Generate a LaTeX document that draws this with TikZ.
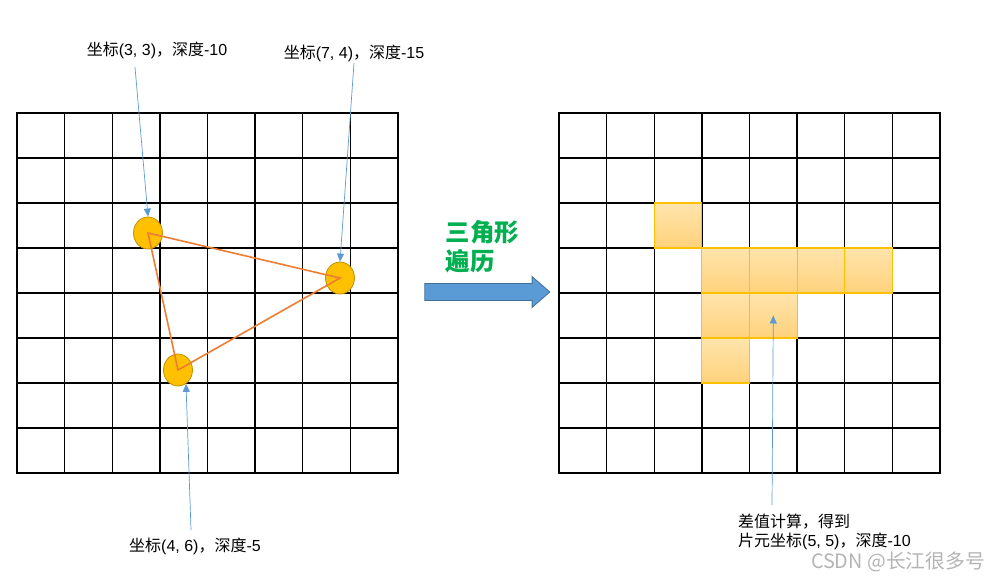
\documentclass[tikz,border=0pt]{standalone}
\usepackage{fontspec}
\setmainfont{Liberation Sans}
\newfontfamily\cjk{Noto Sans CJK SC}
\usepackage{xcolor}
\usetikzlibrary{arrows.meta,shapes.geometric,shapes.arrows}

\definecolor{dotfill}{HTML}{FFC000}
\definecolor{dotedge}{HTML}{BF9000}
\definecolor{triorange}{HTML}{ED7D31}
\definecolor{callblue}{HTML}{5B9BD5}
\definecolor{celltop}{HTML}{FFE4AC}
\definecolor{cellbot}{HTML}{FFD27C}
\definecolor{cellborder}{HTML}{FFC000}
\definecolor{stepgreen}{HTML}{00B050}
\definecolor{arrowedge}{HTML}{41719C}
\definecolor{wmgray}{HTML}{B4B4B4}

\begin{document}
\begin{tikzpicture}[x=1pt, y=-1pt, font=\fontsize{16}{19}\selectfont,
  gridline/.style={line width=1.3pt, line cap=rect},
  dot/.style={ellipse, draw=dotedge, fill=dotfill, line width=0.8pt,
    minimum width=29pt, minimum height=32pt, inner sep=0pt},
  edge/.style={draw=triorange, line width=1.6pt},
  callout/.style={draw=callblue, line width=0.7pt, -{Triangle[width=7pt,length=8pt]}},
  cellhl/.style={draw=cellborder, line width=1.1pt, top color=celltop, bottom color=cellbot,
    minimum width=47.6pt, minimum height=45pt, inner sep=0pt}]

%---------------- 尺寸參數 ----------------%
\def\leftX{17}    % 左格 左
\def\rightX{559}  % 右格 左
\def\topY{113}    % 格子 上
\def\cw{47.625}   % 格寬
\def\ch{45}       % 格高

\useasboundingbox (0,0) rectangle (999,580);

%---------------- 左右兩個 8x8 格子 ----------------%
\foreach \gx in {\leftX,\rightX} {
  \foreach \i in {0,...,8} {
    \draw[gridline] ({\gx+\i*\cw},\topY) -- ({\gx+\i*\cw},{\topY+8*\ch});
    \draw[gridline] (\gx,{\topY+\i*\ch}) -- ({\gx+8*\cw},{\topY+\i*\ch});
  }
}

%---------------- 片元 (右格) ----------------%
\foreach \c/\r in {2/2, 3/3, 4/3, 5/3, 6/3, 3/4, 4/4, 3/5} {
  \node[cellhl] (cell\c\r) at ({\rightX+(\c+0.5)*\cw},{\topY+(\r+0.5)*\ch}) {};
}

%---------------- 三角形頂點 ----------------%
\node[dot] (ptA) at (148,233) {};
\node[dot] (ptB) at (340,278) {};
\node[dot] (ptC) at (178,370) {};
\draw[edge] (ptA.center) -- (ptB.center) -- (ptC.center) -- cycle;

%---------------- 標註 ----------------%
\node (lblA) at (157,50) {{\cjk 坐标}(3, 3){\cjk ，深度}-10};
\node (lblB) at (354,53) {{\cjk 坐标}(7, 4){\cjk ，深度}-15};
\node (lblC) at (195,546) {{\cjk 坐标}(4, 6){\cjk ，深度}-5};
\node[anchor=north west, align=left, inner xsep=0pt] (lblR) at (738,510)
  {{\cjk 差值计算，得到}\\{\cjk 片元坐标}(5, 5){\cjk ，深度}-10};

\coordinate (tailA) at (135,67);
\coordinate (tailB) at (354,63);
\coordinate (tailC) at (191,530);
\coordinate (tailR) at (772,505);
\draw[callout] (tailA) -- (ptA.north);
\draw[callout] (tailB) -- (ptB.north);
\draw[callout] (tailC) -- (ptC.-60);
\draw[callout] (tailR) -- (cell44.center);

%---------------- 中間箭頭 ----------------%
\node[anchor=north west, align=left, text=stepgreen, font=\fontsize{24.5}{29}\selectfont\cjk\bfseries]
  (lblT) at (442,217) {三角形\\遍历};
\node[single arrow, draw=arrowedge, fill=callblue, line width=0.8pt, inner xsep=0pt, inner ysep=8pt,
  minimum height=125pt, single arrow head extend=7pt,
  single arrow tip angle=82] (flow) at (482.5,292) {};

% 水印
\node[text=wmgray, font=\fontsize{19.8}{22}\selectfont\cjk] (mark) at (898,562) {CSDN @长江很多号};

\end{tikzpicture}
\end{document}
